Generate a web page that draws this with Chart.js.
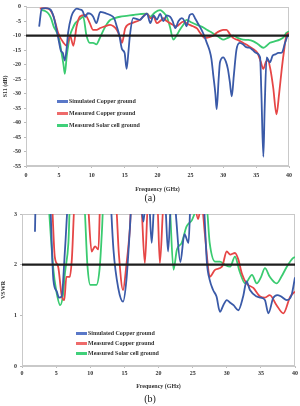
<!DOCTYPE html>
<html>
<head>
<meta charset="utf-8">
<script src="https://cdn.jsdelivr.net/npm/chart.js"></script>
<style>
  body { margin: 0; width: 300px; height: 406px; background: #fff; position: relative; overflow: hidden; font-family: "Liberation Serif", serif; }
  canvas { position: absolute; left: 0; }
  #s11 { top: 0; }
  #vswr { top: 204px; }
  .cap { position: absolute; width: 300px; text-align: center; font-size: 10px; color: #222; }
  .legend { position: absolute; font: bold 6px "Liberation Serif", serif; color: #333; }
  .legend div { height: 12px; line-height: 6px; white-space: nowrap; }
  .legend span { display: inline-block; width: 11px; height: 3px; vertical-align: middle; margin-right: 1px; }
</style>
</head>
<body>
<canvas id="s11" width="300" height="196"></canvas>
<canvas id="vswr" width="300" height="192"></canvas>
<div class="cap" style="top:192px">(a)</div>
<div class="cap" style="top:393px">(b)</div>

<div class="legend" style="left:57px;top:98px">
  <div><span style="background:#5a78c8"></span>Simulated Copper ground</div>
  <div><span style="background:#ee6b6b"></span>Measured Copper ground</div>
  <div><span style="background:#40d07a"></span>Measured Solar cell ground</div>
</div>
<div class="legend" style="left:76px;top:330px">
  <div style="height:10px"><span style="background:#5a78c8"></span>Simulated Copper ground</div>
  <div style="height:10px"><span style="background:#ee6b6b"></span>Measured Copper ground</div>
  <div style="height:10px"><span style="background:#40d07a"></span>Measured Solar cell ground</div>
</div>

<script>
// ---------- (a) S11 in dB ----------
const simS11F = [2.0,2.4,3.0,3.7,4.2, 4.7,5.0,5.3,5.6,5.9, 6.2,6.4,6.9,7.3,7.7, 8.2,8.6,9.0,9.4,9.8,
  10.2,10.7,11.3,12.0,12.8, 13.4,13.8,14.2,14.6,15.0, 15.3,15.6,15.8,16.3,16.8, 17.3,17.8,18.4,18.9,19.4,
  19.9,20.4,20.9,21.4,21.9, 22.3,22.7,23.2,23.7,24.1, 24.4,24.9,25.3,25.7,26.2, 26.7,27.1,27.5,27.9,28.2,
  28.5,28.8,29.0,29.3,29.5, 30.0,30.4,30.7,31.0,31.3, 31.6,32.0,32.5,33.0,33.5, 34.0,34.5,35.0,35.6,35.8,
  36.1,36.3,36.6,37.1,37.5, 37.9,38.4,38.9,39.4,39.8, 40];
const simS11 = [-6.9,-0.7,-0.5,-1.0,-3.5, -8.5,-12,-15.2,-16,-18.6, -14,-9.1,-3.4,-1.5,-0.7, -1.0,-1.5,-3.5,-2.3,-2.5,
  -3.4,-5.7,-1.8,-2.2,-2.9, -4,-6.8,-10,-14.7,-16, -21.5,-15,-10,-4,-4.2, -4.6,-3.5,-2.4,-5.7,-3,
  -4.5,-2.5,-5,-3,-3.5, -5,-7.4,-5,-4,-5, -6.8,-2.9,-2.5,-4,-6, -8,-10,-12.5,-15,-18,
  -24,-30,-35.4,-25,-19.2, -17.5,-19,-21.5,-26,-31, -24,-15,-12.5,-13,-14, -14.2,-15,-16,-17.5,-30,
  -51.8,-35,-17.5,-19.2,-17, -16.5,-16,-15.9,-12.5,-10, -9.5];

const cuS11F = [2.1,2.6,3.2,3.7,4.2, 4.9,5.7,6.2,6.7,7.2, 7.7,8.2,9.0,9.7,10.2, 10.8,11.3,12.0,12.8,13.3,
  13.8,14.3,14.6,15.1,16.1, 17.3,18.4,18.9,19.4,19.9, 20.4,20.9,21.4,21.9,22.9, 23.9,24.6,25.4,26.0,26.5,
  27.2,27.9,28.5,29.0,29.5, 30.0,30.5,31.0,31.5,32.2, 33.0,33.8,34.6,35.2,35.7, 36.1,36.5,36.8,37.2,37.6,
  38.1,38.5,38.9,39.2,39.6, 40];
const cuS11 = [-0.7,-0.5,-0.6,-1.2,-3.4, -9.1,-12.5,-13.5,-10,-13.5, -6.8,-3.4,-2.9,-5.7,-8, -8,-7.4,-6.8,-6.3,-6.8,
  -8,-10.5,-12.5,-7.4,-5.7, -4.6,-2.4,-4,-3.5,-5.7, -5,-4,-5,-5.7,-6.8, -5.2,-6,-6.8,-7.5,-9.1,
  -10.8,-10.5,-10,-9,-8.4, -8,-8,-9.5,-10.8,-11.5, -12.5,-13.5,-14.7,-16,-19, -21.5,-19,-18.6,-22,-28,
  -37.2,-30,-21.5,-16,-10, -9];

const solarS11F = [2.4,2.9,3.4,3.8,4.2, 4.6,4.9,5.2,5.4,5.7, 5.9,6.2,6.7,7.1,7.5, 8.1,8.7,9.2,9.7,10.2,
  10.7,11.2,11.8,12.3,12.8, 13.5,14.3,15.3,16.3,17.3, 18.4,18.9,19.6,20.4,20.9, 21.4,21.9,22.4,22.9,23.4,
  24.0,24.4,25.2,26.0,26.8, 27.5,28.3,29.0,29.5,30.0, 30.7,31.5,32.2,33.0,33.8, 34.6,35.3,36.1,36.6,37.1,
  37.8,38.6,39.2,39.6,40];
const solarS11 = [-1.2,-1.5,-2.4,-4,-6.8, -8.5,-10,-13,-15.9,-20, -23.2,-17,-10,-7.5,-5.7, -4.5,-3.5,-10,-12.5,-12.5,
  -13,-11,-8,-6,-4.6, -4,-3.5,-3.2,-2.9,-2.6, -2.4,-3.5,-2,-1.2,-2, -3.5,-7,-11.4,-10,-8,
  -6,-4.6,-5.5,-6.3,-7, -8,-9,-10,-10.8,-11.4, -10.8,-10,-10.8,-11.4,-11.5, -12,-13,-14.2,-13.5,-12.5,
  -12,-11.4,-10.5,-9.1,-8.5];

// ---------- (b) VSWR (values above 3 run off the top of the plot) ----------
const simVswrF = [1.9,2.2,3.5,4.1,4.6, 5.1,5.4,5.8,6.3,6.8, 9.0,12.5,13.0,13.4,14.1, 14.8,15.3,15.8,16.1,17.0,
  17.4,17.8,18.2,18.6,19.0, 19.4,20.2,21.0,21.4,21.8, 22.2,22.6,23.2,23.8,24.4, 24.7,25.6,26.6,27.1,27.5,
  28.0,28.5,29.0,29.5,30.0, 30.5,31.0,31.7,32.4,32.9, 33.4,34.4,35.0,35.6,36.1, 36.8,37.4,38.0,38.8,39.5, 40];
const simVswr = [2.65,4.5,5,3.4,1.7, 1.47,1.35,1.37,2.3,3.4, 5,5,3.3,2.3,1.54, 1.27,1.7,2.7,3.4,4,
  3.3,2.85,3.4,3.3,2.43, 3.3,3.6,3.2,2.26,3.2, 3.6,2.9,2.05,2.6,2.43, 3.3,4,3.3,2.03,1.7,
  1.5,1.37,1.07,1.2,1.3, 1.25,1.2,1.1,1.37,1.67, 1.5,1.37,1.35,1.3,1.04, 1.34,1.4,1.37,1.3,1.4, 1.75];

const cuVswrF = [2.1,4.3,4.8,5.3,5.8, 6.2,6.5,7.0,7.3,7.8, 9.5,10.2,10.7,11.2,11.5, 13.7,14.2,14.8,15.3,15.8,
  16.1,17.4,18.0,18.5,19.8, 20.2,20.8,24.8,25.2,25.8, 26.3,26.8,27.1,27.5,28.3, 29.3,30.0,30.5,31.2,31.7,
  32.2,32.9,33.9,34.9,35.6, 36.3,37.3,38.3,39.3,40];
const cuVswr = [4,3.4,2.16,1.96,1.4, 1.3,1.76,1.76,2.1,3.4, 3.4,2.26,2.36,2.3,3.4, 3.3,2.2,1.5,2.0,2.7,
  3.4,3.3,2.03,3.3,3.3, 2.03,3.3,3.4,3.3,2.9, 3.2,2.6,2.16,1.76,1.9, 1.96,2.26,2.2,2.23,2.1,
  1.83,1.63,1.54,1.37,1.35, 1.4,1.2,1.04,1.37,1.47];

const solarVswrF = [3.8,4.6,5.0,5.6,6.0, 6.3,6.8,7.1,9.0,9.6, 10.0,10.5,10.9,11.4,11.7, 12.0,21.5,22.2,22.7,23.4,
  24.1,24.9,25.6,27.0,27.5, 28.3,29.0,29.7,30.5,31.2, 31.9,32.7,33.7,34.4,35.0, 35.6,36.3,37.3,38.0,38.8, 39.7,40];
const solarVswr = [3.4,1.9,1.5,1.2,1.4, 1.84,2.43,3.4,3.4,1.96, 1.6,1.6,1.6,1.96,2.63, 3.4,3.4,1.9,2.3,2.43,
  2.75,2.88,3.1,3.2,2.43, 2.06,2.06,2.0,1.96,2.16, 1.86,1.63,1.8,1.63,1.75, 1.93,1.76,1.63,1.76,1.96, 2.13,2.15];

const freqRange = [0, 40, 5];
const s11Range = [-55, 0, 5];
const vswrRange = [0, 3, 1];
const s11Limit = -10;
const vswrLimit = 2;

const BLUE = '#3a5aa8', RED = '#e64646', GREEN = '#3acb70';
const pts = (f, v) => f.map((x, i) => ({ x: x, y: v[i] }));
const tickFont = { family: 'Liberation Serif', size: 6, weight: 'bold' };

// light grey box round the plot area
const frame = {
  id: 'frame',
  beforeDatasetsDraw(chart) {
    const a = chart.chartArea, ctx = chart.ctx;
    ctx.save();
    ctx.strokeStyle = '#c9c9c9';
    ctx.lineWidth = 1;
    ctx.strokeRect(Math.round(a.left) + 0.5, Math.round(a.top) + 0.5, Math.round(a.width) - 1, Math.round(a.height) - 1);
    ctx.restore();
  }
};

function curve(data, color) {
  return { data: data, borderColor: color, borderWidth: 1.8, pointRadius: 0, fill: false, cubicInterpolationMode: 'monotone' };
}

function makeChart(id, opt) {
  return new Chart(document.getElementById(id), {
    type: 'line',
    data: {
      datasets: [
        { data: [{ x: freqRange[0], y: opt.limit }, { x: freqRange[1], y: opt.limit }],
          borderColor: '#1e1e1e', borderWidth: 2.4, pointRadius: 0 },
        curve(opt.sim, BLUE),
        curve(opt.cu, RED),
        curve(opt.solar, GREEN)
      ]
    },
    options: {
      responsive: false,
      animation: false,
      devicePixelRatio: 1,
      layout: { padding: opt.pad },
      plugins: { legend: { display: false }, tooltip: { enabled: false } },
      scales: {
        x: {
          type: 'linear', min: freqRange[0], max: freqRange[1],
          ticks: { stepSize: freqRange[2], font: tickFont, color: '#333', padding: opt.xTickPad, maxRotation: 0 },
          grid: { drawOnChartArea: false, tickLength: 2, color: '#bbb' },
          border: { color: '#c9c9c9' },
          title: { display: true, text: 'Frequency (GHz)', font: tickFont, color: '#333', padding: { top: 0, bottom: opt.xTitlePad } },
          afterFit: s => { s.height = opt.xHeight; }
        },
        y: {
          min: opt.range[0], max: opt.range[1],
          ticks: { stepSize: opt.range[2], font: tickFont, color: '#333', padding: 3 },
          grid: { drawOnChartArea: false, tickLength: 2, color: '#bbb' },
          border: { color: '#c9c9c9' },
          title: { display: true, text: opt.yTitle, font: tickFont, color: '#333', padding: { top: opt.yTitlePad, bottom: 0 } },
          afterFit: s => { s.width = opt.yWidth; }
        }
      }
    },
    plugins: [frame]
  });
}

makeChart('s11', {
  sim: pts(simS11F, simS11), cu: pts(cuS11F, cuS11), solar: pts(solarS11F, solarS11),
  limit: s11Limit, range: s11Range, yTitle: 'S11 (dB)',
  pad: { top: 3, right: 11, bottom: 0, left: 0 },
  yWidth: 26, xHeight: 30, xTickPad: 3.5, xTitlePad: 3.4, yTitlePad: 1.4
});

makeChart('vswr', {
  sim: pts(simVswrF, simVswr), cu: pts(cuVswrF, cuVswr), solar: pts(solarVswrF, solarVswr),
  limit: vswrLimit, range: vswrRange, yTitle: 'VSWR',
  pad: { top: 10, right: 5, bottom: 0, left: 0 },
  yWidth: 22, xHeight: 30, xTickPad: 2, xTitlePad: 5.7, yTitlePad: 0
});
</script>
</body>
</html>
